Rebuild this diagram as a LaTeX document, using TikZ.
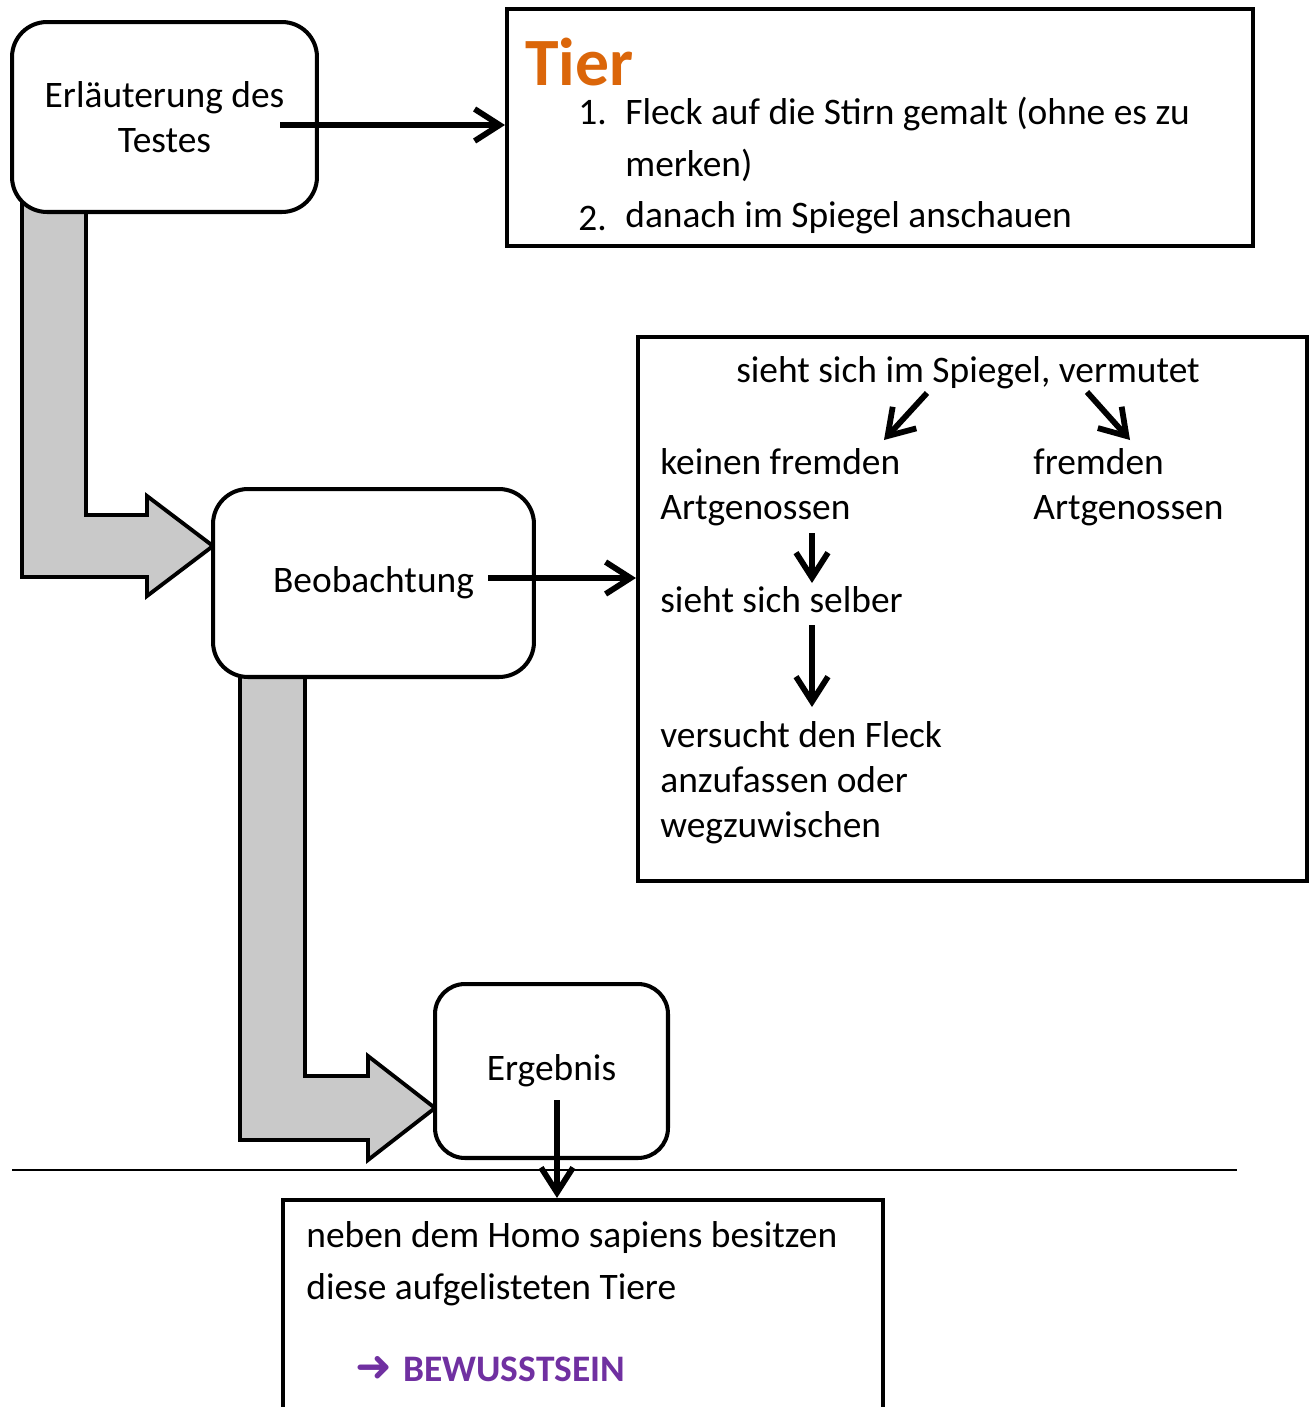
\documentclass[tikz,border=0pt]{standalone}
\usepackage{fontspec}
\setmainfont{Carlito}
\newfontfamily\symbolfont{DejaVu Sans}
\usepackage{xcolor}
\definecolor{tierorange}{rgb}{0.86,0.40,0.04}
\definecolor{bewusst}{rgb}{0.44,0.19,0.63}
\definecolor{flowgray}{rgb}{0.79,0.79,0.79}
\usepackage{tikz}
\usetikzlibrary{positioning,calc}
\usetikzlibrary{arrows.meta}
\tikzset{>={Straight Barb[length=0.5cm,width=0.64cm]}}
\newcommand{\txtsize}{\fontsize{21.3}{25.6}\selectfont}
\newcommand{\listsize}{\fontsize{21.3}{29.5}\selectfont}
\tikzset{
  stage/.style    ={ font=\txtsize, rectangle, draw=black, fill=white, line width=2.3pt,
                     rounded corners=0.7cm, align=center, inner sep=0pt },
  panel/.style    ={ rectangle, draw=black, fill=white, line width=2.4pt, inner sep=0pt },
  label/.style    ={ font=\txtsize, anchor=west, align=left, inner sep=0pt },
  listlabel/.style={ font=\listsize, anchor=west, align=left, inner sep=0pt },
  flow/.style={->, line width=3.3pt, draw=black},
%
  bigflow/.style={draw=black, fill=flowgray, line width=2.2pt, line join=miter}
}

\begin{document}
\begin{tikzpicture}[x=0.02cm,y=-0.02cm]
        \useasboundingbox (0,0) rectangle (1314,1407);
        \clip (0,0) rectangle (1314,1407);
        % grey block arrows
        \draw[bigflow] (22,180) -- (22,577) -- (147,577) -- (147,596) -- (213,546)
              -- (147,496) -- (147,515) -- (86,515) -- (86,180) -- cycle;
        \draw[bigflow] (240,650) -- (240,1140) -- (368,1140) -- (368,1160) -- (435,1108)
              -- (368,1056) -- (368,1076) -- (305,1076) -- (305,650) -- cycle;
        % boxes
        \node[stage, minimum width=6.1cm, minimum height=3.8cm] (erl) at (164.5,117) {Erläuterung des\\Testes};
        \node[stage, minimum width=6.42cm, minimum height=3.76cm] (beob) at (373.5,583) {Beobachtung};
        \node[stage, minimum width=4.66cm, minimum height=3.48cm, rounded corners=0.6cm] (erg) at (551.5,1071) {Ergebnis};
        \node[panel, minimum width=14.92cm, minimum height=4.74cm] (tier) at (880,127.5) {};
        \node[panel, minimum width=13.38cm, minimum height=10.88cm] (obs) at (972.5,609) {};
        \node[panel, minimum width=12cm, minimum height=5.2cm] (res) at (583,1330) {};
        \draw[line width=1.1pt] (12,1170) -- (1237,1170);
        % Tier
        \node[listlabel, font=\bfseries\fontsize{38.5}{42}\selectfont, text=tierorange] (tiertitle) at (525,62) {Tier};
        \node[listlabel] (numone) at (578,113) {1.};
        \node[listlabel] (itemone) at (625,139) {Fleck auf die Stirn gemalt (ohne es zu\\merken)};
        \node[listlabel] (numtwo) at (578,218) {2.};
        \node[listlabel] (itemtwo) at (625,218) {danach im Spiegel anschauen};
        % Beobachtung
        \node[label, anchor=center] (spiegel) at (968,373) {sieht sich im Spiegel, vermutet};
        \node[label] (keinen) at (660,487) {keinen fremden\\Artgenossen};
        \node[label] (fremden) at (1033,487) {fremden\\Artgenossen};
        \node[label] (selber) at (660,600) {sieht sich selber};
        \node[label] (versucht) at (660,783) {versucht den Fleck\\anzufassen oder\\wegzuwischen};
        % Ergebnis
        \node[listlabel] (neben) at (306,1264) {neben dem Homo sapiens besitzen\\diese aufgelisteten Tiere};
        \node[label, text=bewusst] (bewusstsein) at (355,1369) {{\symbolfont\bfseries\fontsize{25}{25}\selectfont ➜}\hspace{0.3em}\bfseries BEWUSSTSEIN};
        % connectors
        \coordinate (erlout) at (280,125);
        \coordinate (beobout) at (488,578);
        \coordinate (ergout) at (557,1100);
        \coordinate (spl) at (927,393);
        \coordinate (spr) at (1087,392);
        \coordinate (keinenin) at (884,440);
        \coordinate (fremdenin) at (1130,440);
        \coordinate (keinenout) at (812,533);
        \coordinate (selberin) at (812,583);
        \coordinate (selberout) at (812,625);
        \coordinate (versuchtin) at (812,707);
        \draw[flow] (erlout) -- (erlout -| tier.west);
        \draw[flow] (beobout) -- (beobout -| obs.west);
        \draw[flow] (ergout) -- (ergout |- res.north);
        \draw[flow] (spl) -- (keinenin);
        \draw[flow] (spr) -- (fremdenin);
        \draw[flow] (keinenout) -- (selberin);
        \draw[flow] (selberout) -- (versuchtin);
      \end{tikzpicture}
\end{document}
